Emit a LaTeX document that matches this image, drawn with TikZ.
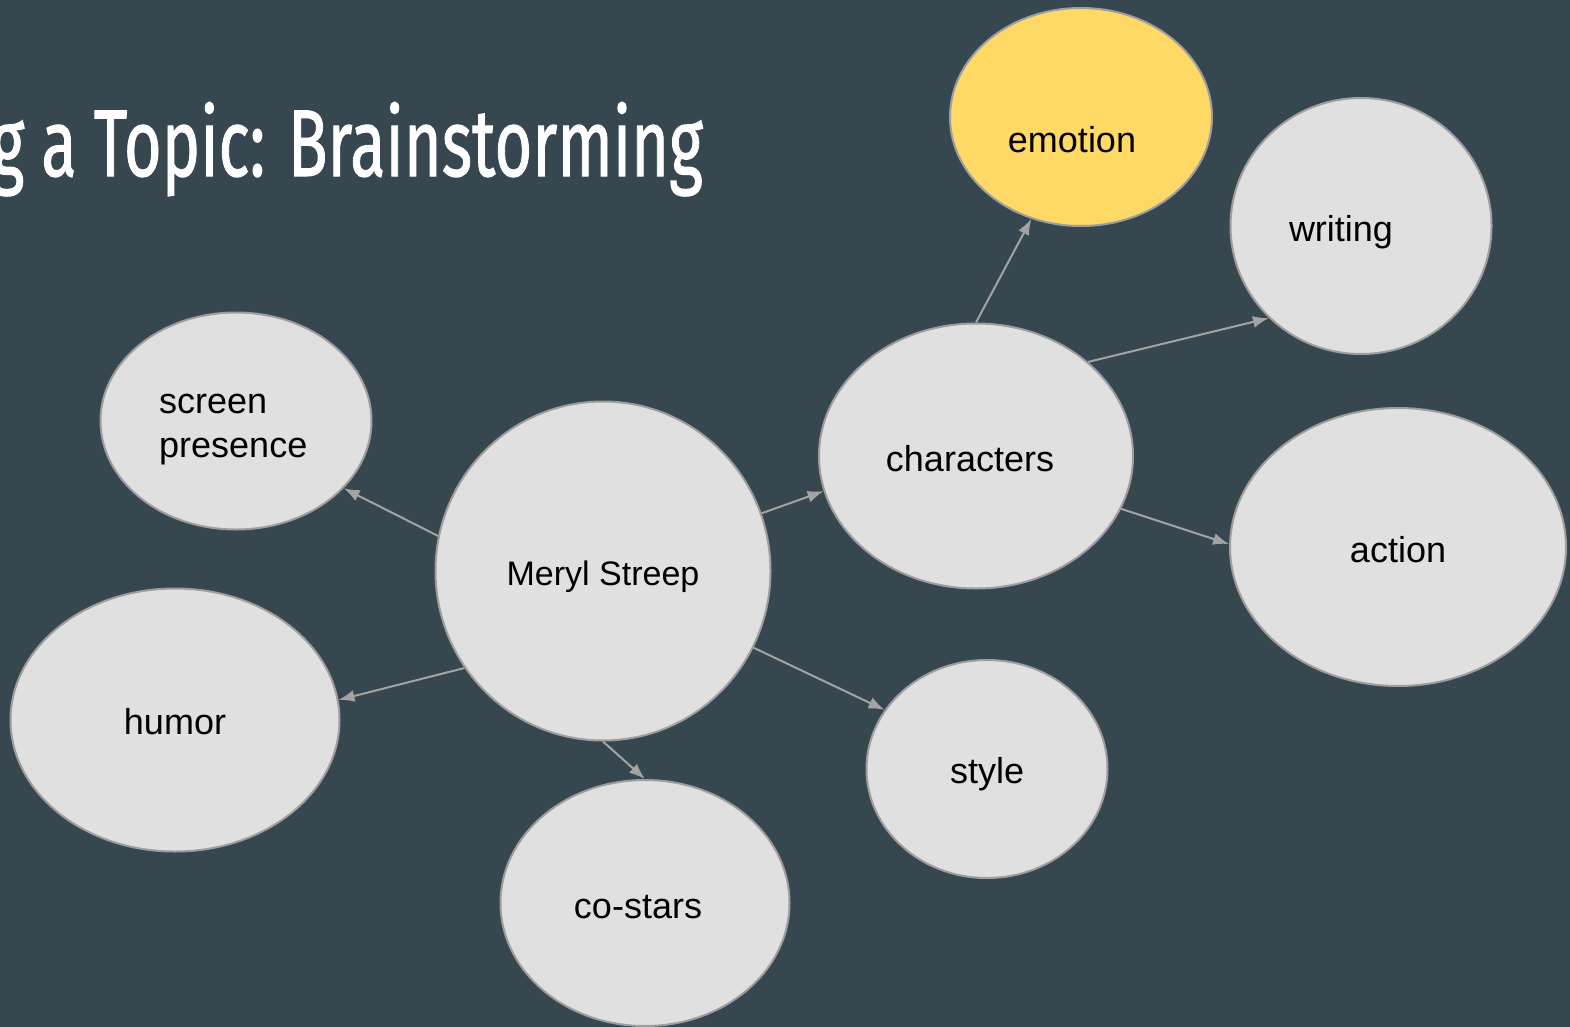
\documentclass[tikz,border=0pt]{standalone}
\usepackage{fontspec}
\usepackage{graphicx}
\setmainfont{Liberation Sans}
\newfontfamily\titlefont[FakeBold=1.2]{Fira Sans}
\usetikzlibrary{arrows.meta,shapes.geometric}
\definecolor{bgc}{HTML}{37474F}
\definecolor{fillc}{HTML}{E0E0E0}
\definecolor{edgec}{HTML}{9E9E9E}
\definecolor{yel}{HTML}{FFD966}
\definecolor{arrc}{HTML}{A3A3A3}
\tikzset{
  bubble/.style={ellipse, draw=edgec, fill=fillc, line width=2pt, inner sep=0pt},
  lbl/.style={font=\fontsize{36}{44}\selectfont, text=black, anchor=base, inner sep=0pt},
  conn/.style={draw=arrc, line width=2pt, -{Latex[length=16pt,width=12pt]}}
}
\begin{document}
\begin{tikzpicture}[x=1pt,y=-1pt]
\useasboundingbox (0,0) rectangle (1570,1027);
\fill[bgc] (0,0) rectangle (1570,1027);
\clip (0,0) rectangle (1570,1027);
% title
\node[anchor=base east, inner sep=0pt, text=white] (title) at (703,176)
  {\resizebox{712pt}{74pt}{\titlefont g a Topic: Brainstorming}};
% bubbles
\node[bubble, fill=yel, minimum width=262pt, minimum height=218pt] (emotion) at (1081,117) {};
\node[bubble, minimum width=261pt, minimum height=256pt] (writing) at (1361,226) {};
\node[bubble, minimum width=271pt, minimum height=217pt] (screen) at (236,421) {};
\node[bubble, minimum width=335pt, minimum height=339pt] (meryl) at (603,571) {};
\node[bubble, minimum width=314pt, minimum height=265pt] (characters) at (976,456) {};
\node[bubble, minimum width=336pt, minimum height=278pt] (action) at (1398,547) {};
\node[bubble, minimum width=329pt, minimum height=263pt] (humor) at (175,720) {};
\node[bubble, minimum width=241pt, minimum height=218pt] (style) at (987,769) {};
\node[bubble, minimum width=289pt, minimum height=246pt] (costars) at (645,903) {};
% labels
\node[lbl] (emotion-t) at (1072,153) {emotion};
\node[lbl] (writing-t) at (1341,241) {writing};
\node[lbl, anchor=base west, align=left] (screen-t) at (159,457) {screen\\presence};
\node[lbl] (characters-t) at (970,471) {characters};
\node[lbl, font=\fontsize{34}{40}\selectfont] (meryl-t) at (603,585) {Meryl Streep};
\node[lbl] (action-t) at (1398,562) {action};
\node[lbl] (humor-t) at (175,734) {humor};
\node[lbl] (style-t) at (987,783) {style};
\node[lbl] (costars-t) at (638,918) {co-stars};
% connectors
\draw[conn] (meryl.168) -- (screen.-32);
\draw[conn] (characters.90) -- (emotion.244);
\draw[conn] (characters.40) -- (writing.225);
\draw[conn] (meryl.20) -- (characters.193);
\draw[conn] (characters.-20) -- (action.179);
\draw[conn] (meryl.215) -- (humor.7);
\draw[conn] (meryl.-27) -- (style.150);
\draw[conn] (meryl.-90) -- (costars.90);
\end{tikzpicture}
\end{document}
